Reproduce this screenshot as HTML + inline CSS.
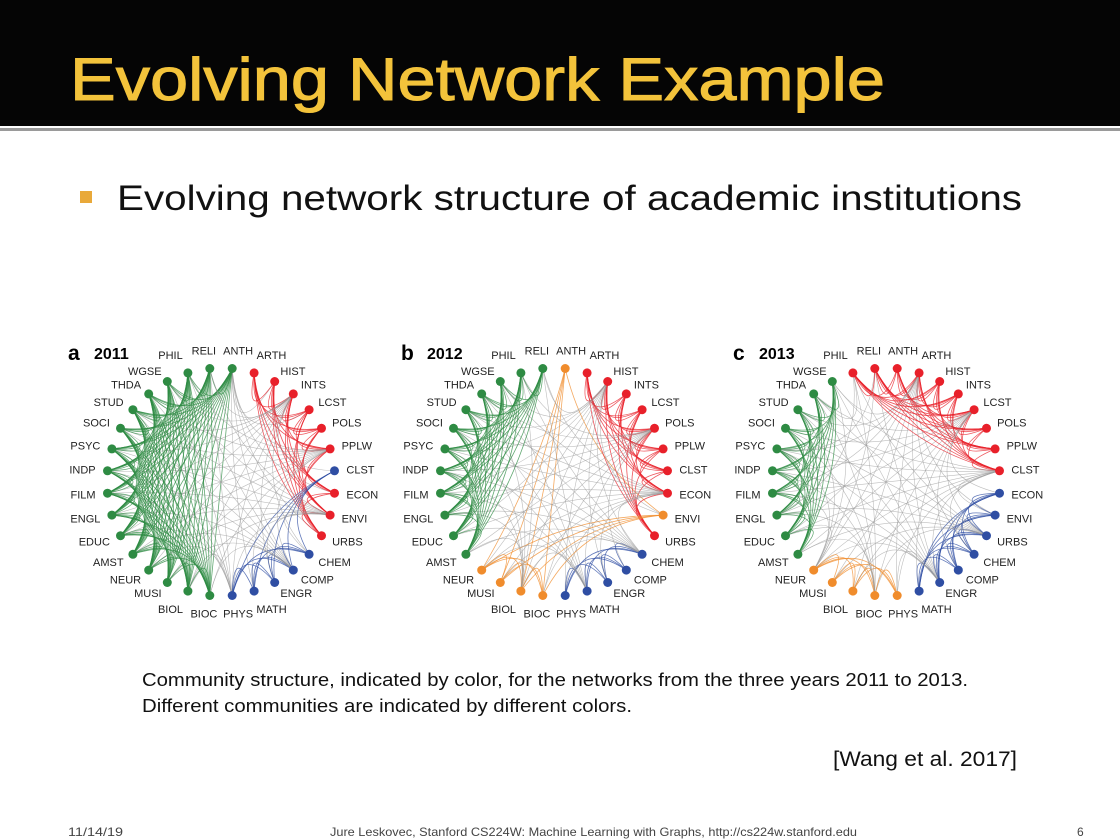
<!DOCTYPE html>
<html><head><meta charset="utf-8">
<style>
html,body{margin:0;padding:0;background:#fff;}
svg{display:block;}
</style></head>
<body>
<svg id="slide" width="1120" height="840" viewBox="0 0 1120 840" xmlns="http://www.w3.org/2000/svg">
  <rect x="0" y="0" width="1120" height="126" fill="#050505"/>
  <rect x="0" y="128" width="1120" height="3" fill="#9a9a9a"/>
  <text x="70" y="100" font-family="Liberation Sans, sans-serif" font-size="60" fill="#f3c33b" stroke="#f3c33b" stroke-width="1" textLength="815" lengthAdjust="spacingAndGlyphs">Evolving Network Example</text>
  <rect x="80" y="191" width="12" height="12" fill="#e9a93a"/>
  <text x="117" y="210" font-family="Liberation Sans, sans-serif" font-size="35" fill="#111" textLength="905" lengthAdjust="spacingAndGlyphs">Evolving network structure of academic institutions</text>
  <g id="panels"></g>
  <text x="142" y="686" font-family="Liberation Sans, sans-serif" font-size="18" fill="#111" textLength="826" lengthAdjust="spacingAndGlyphs">Community structure, indicated by color, for the networks from the three years 2011 to 2013.</text>
  <text x="142" y="712" font-family="Liberation Sans, sans-serif" font-size="18" fill="#111" textLength="490" lengthAdjust="spacingAndGlyphs">Different communities are indicated by different colors.</text>
  <text x="833" y="766" font-family="Liberation Sans, sans-serif" font-size="21" fill="#111" textLength="184" lengthAdjust="spacingAndGlyphs">[Wang et al. 2017]</text>
  <text x="68" y="836" font-family="Liberation Sans, sans-serif" font-size="12" fill="#444" textLength="55" lengthAdjust="spacingAndGlyphs">11/14/19</text>
  <text x="330" y="836" font-family="Liberation Sans, sans-serif" font-size="12" fill="#444" textLength="527" lengthAdjust="spacingAndGlyphs">Jure Leskovec, Stanford CS224W: Machine Learning with Graphs, http://cs224w.stanford.edu</text>
  <text x="1077" y="836" font-family="Liberation Sans, sans-serif" font-size="12" fill="#444">6</text>
</svg>
<script>
// Nodes clockwise starting at ANTH (just right of top)
const depts = ["ANTH","ARTH","HIST","INTS","LCST","POLS","PPLW","CLST","ECON","ENVI","URBS","CHEM","COMP","ENGR","MATH","PHYS","BIOC","BIOL","MUSI","NEUR","AMST","EDUC","ENGL","FILM","INDP","PSYC","SOCI","STUD","THDA","WGSE","PHIL","RELI"];
const years = ["2011","2012","2013"];
const panelLetters = ["a","b","c"];
// community per dept: g=green r=red b=blue o=orange
const comm2011 = ["g","r","r","r","r","r","r","b","r","r","r","b","b","b","b","b","g","g","g","g","g","g","g","g","g","g","g","g","g","g","g","g"];
const comm2012 = ["o","r","r","r","r","r","r","r","r","o","r","b","b","b","b","b","o","o","o","o","g","g","g","g","g","g","g","g","g","g","g","g"];
const comm2013 = ["r","r","r","r","r","r","r","r","b","b","b","b","b","b","b","o","o","o","o","o","g","g","g","g","g","g","g","g","g","g","r","r"];
const comms = [comm2011, comm2012, comm2013];
const palette = {g:"#2e8b43", r:"#e8202a", b:"#2f4ea3", o:"#f08c2c"};
const centersX = [221, 554, 886];
const centerY = 482, R = 114;
const NS = "http://www.w3.org/2000/svg";
const root = document.getElementById('panels');
function mk(tag, attrs, parent){const e=document.createElementNS(NS,tag);for(const k in attrs)e.setAttribute(k,attrs[k]);parent.appendChild(e);return e;}
function pos(cx,i,r){const a=(5.625+11.25*i)*Math.PI/180;return [cx+r*Math.sin(a), centerY-r*Math.cos(a)];}
years.forEach((yr,p)=>{
  const cx=centersX[p], comm=comms[p];
  const g=mk('g',{},root);
  
  
  const edges=mk('g',{fill:'none'},g);
  
  
  const n=depts.length;
  for(let i=0;i<n;i++)for(let j=i+1;j<n;j++){
    const same=comm[i]===comm[j];
    const cross=!same && ((i*7+j*3+p)%6===0);
    if(!same && !cross) continue;
    const [x1,y1]=pos(cx,i,R),[x2,y2]=pos(cx,j,R);
    const mx=(x1+x2)/2,my=(y1+y2)/2;
    const k=same?0.45:0.7;
    const qx=mx+(cx-mx)*k,qy=my+(centerY-my)*k;
    const e=mk('path',{d:`M${x1.toFixed(1)},${y1.toFixed(1)} Q${qx.toFixed(1)},${qy.toFixed(1)} ${x2.toFixed(1)},${y2.toFixed(1)}`,stroke:same?palette[comm[i]]:'#9a9a9a','stroke-width':same?0.8:0.6,'stroke-opacity':same?0.75:0.65},edges);
    
    
  }
  depts.forEach((d,i)=>{
    const [x,y]=pos(cx,i,R);
    const c=mk('circle',{cx:x.toFixed(1),cy:y.toFixed(1),r:4.5,fill:palette[comm[i]]},g);
    
    
    const a=(5.625+11.25*i)*Math.PI/180, s=Math.sin(a), co=Math.cos(a);
    let lx,ly,anchor;
    if(Math.abs(s)<0.35){
      anchor='middle';
      lx=x+s*60;
      ly=co>0 ? y-14 : y+22;
    } else {
      const q=pos(cx,i,R+12);
      lx=q[0]; ly=q[1]+4;
      anchor=s>0?'start':'end';
    }
    const t=mk('text',{x:lx.toFixed(1),y:ly.toFixed(1),'text-anchor':anchor,'font-family':'Liberation Sans, sans-serif','font-size':11,fill:'#222'},g);
    t.textContent=d;
    
    
  });
  const lt=mk('text',{x:cx-153,y:360,'font-family':'Liberation Sans, sans-serif','font-size':21,'font-weight':'bold',fill:'#000'},g);
  lt.textContent=panelLetters[p];
  
  
  const yt=mk('text',{x:cx-127,y:359,'font-family':'Liberation Sans, sans-serif','font-size':16,'font-weight':'bold',fill:'#000'},g);
  yt.textContent=yr;
  
  
});
</script>
</body></html>
